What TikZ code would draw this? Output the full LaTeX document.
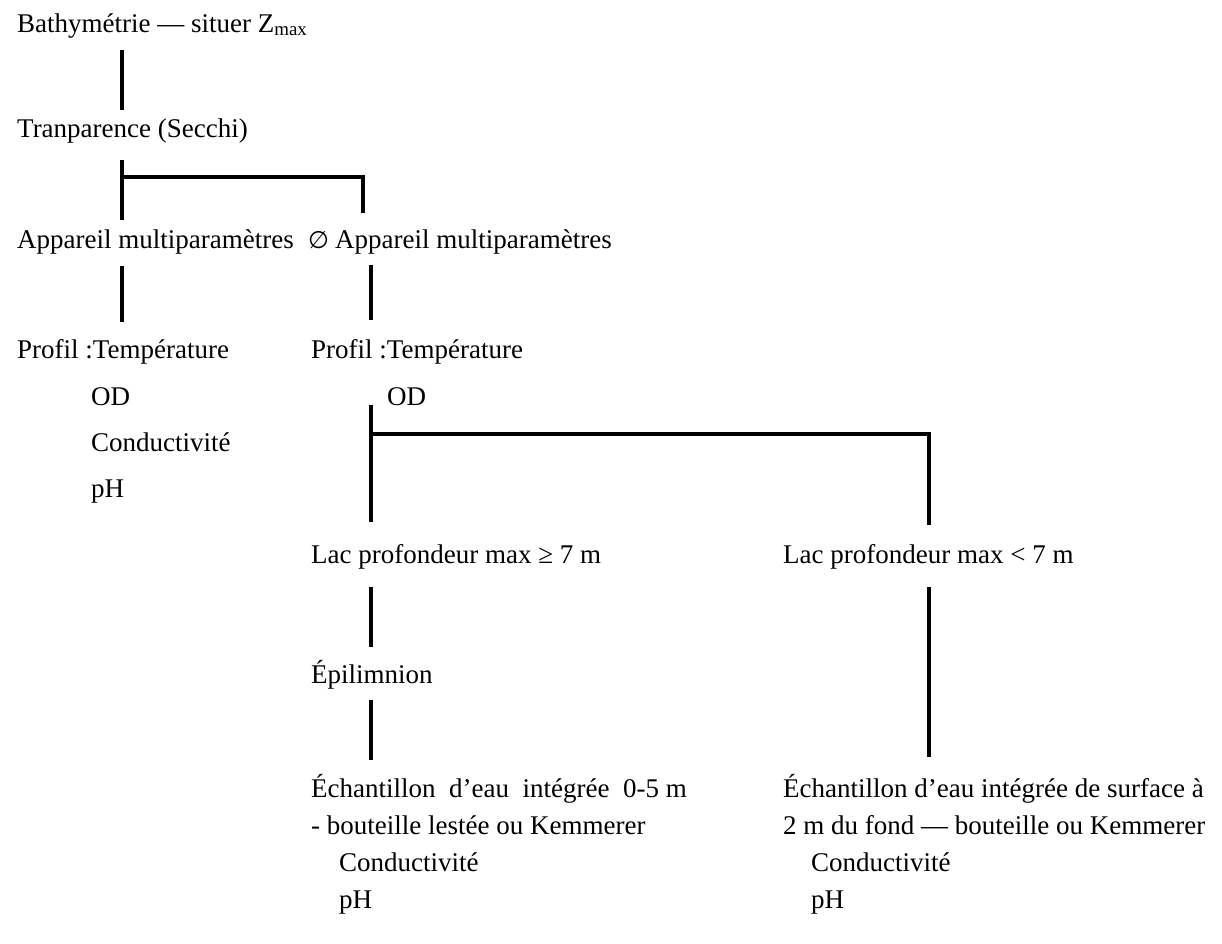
\documentclass[tikz,border=0pt]{standalone}
\usepackage{fontspec}
\setmainfont{Liberation Serif}
\newfontfamily\dvs{DejaVu Sans}
\begin{document}
\begin{tikzpicture}[x=1pt,y=-1pt,
  txt/.style={inner sep=0pt, anchor=base west, font=\fontsize{27pt}{32pt}\selectfont},
  conn/.style={line width=3.2pt, line join=miter}]
\useasboundingbox[fill=white] (0,0) rectangle (1222,943);
% texts
\node[txt] (bathy) at (17,32) {Bathymétrie — situer Z\textsubscript{max}};
\node[txt] (secchi) at (17,137) {Tranparence (Secchi)};
\node[txt] (multi) at (17,248) {Appareil multiparamètres};
\node[txt] (nomulti) at (308,248) {\makebox[27pt][l]{\dvs\fontsize{24pt}{28pt}\selectfont ∅}Appareil multiparamètres};
\node[txt] (profA) at (17,358) {Profil :Température};
\node[txt] (odA) at (91,405) {OD};
\node[txt] (condA) at (91,451) {Conductivité};
\node[txt] (phA) at (91,497) {pH};
\node[txt] (profB) at (311,358) {Profil :Température};
\node[txt] (odB) at (387,405) {OD};
\node[txt] (lacA) at (311,563) {Lac profondeur max ≥ 7 m};
\node[txt] (lacB) at (783,563) {Lac profondeur max < 7 m};
\node[txt] (epi) at (311,683) {Épilimnion};
\node[txt] (echA1) at (311,797) {Échantillon\ \ d’eau\ \ intégrée\ \ 0-5 m};
\node[txt] (echA2) at (311,834) {- bouteille lestée ou Kemmerer};
\node[txt] (condC) at (339,871) {Conductivité};
\node[txt] (phC) at (339,908) {pH};
\node[txt] (echB1) at (783,797) {Échantillon d’eau intégrée de surface à};
\node[txt] (echB2) at (783,834) {2 m du fond — bouteille ou Kemmerer};
\node[txt] (condD) at (811,871) {Conductivité};
\node[txt] (phD) at (811,908) {pH};
% connector end points
\coordinate (a1) at (122,50);  \coordinate (a2) at (122,110);
\coordinate (b1) at (122,160); \coordinate (b2) at (122,220);
\coordinate (bh) at (122,177); \coordinate (br) at (363,177); \coordinate (brb) at (363,213);
\coordinate (c1) at (122,266); \coordinate (c2) at (122,322);
\coordinate (d1) at (371,265); \coordinate (d2) at (371,320);
\coordinate (e1) at (371,405); \coordinate (e2) at (371,522);
\coordinate (eh) at (371,434); \coordinate (er) at (929,434); \coordinate (erb) at (929,525);
\coordinate (f1) at (371,587); \coordinate (f2) at (371,647);
\coordinate (g1) at (929,587); \coordinate (g2) at (929,757);
\coordinate (h1) at (371,700); \coordinate (h2) at (371,760);
% connectors
\draw[conn] (a1) -- (a2);
\draw[conn] (b1) -- (b2);
\draw[conn] (bh) -- (br) -- (brb);
\draw[conn] (c1) -- (c2);
\draw[conn] (d1) -- (d2);
\draw[conn] (e1) -- (e2);
\draw[conn] (eh) -- (er) -- (erb);
\draw[conn] (f1) -- (f2);
\draw[conn] (g1) -- (g2);
\draw[conn] (h1) -- (h2);
\end{tikzpicture}
\end{document}
